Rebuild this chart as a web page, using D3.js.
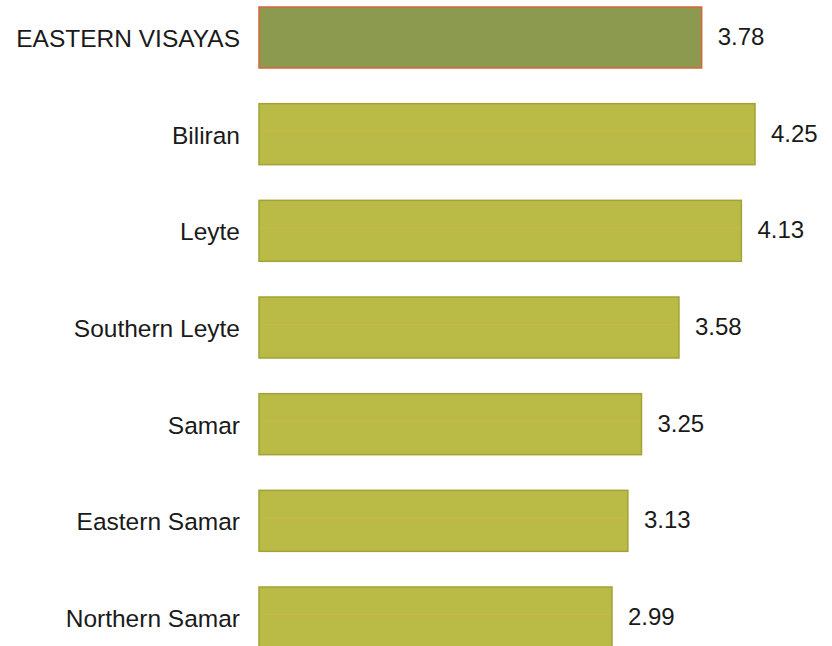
<!DOCTYPE html>
<html>
<head>
<meta charset="utf-8">
<script src="https://cdn.jsdelivr.net/npm/d3@7"></script>
<style>
  body { margin: 0; background: #fff; }
  text { font-family: Arial, "Liberation Sans", sans-serif; fill: #1a1a1a; }
</style>
</head>
<body>
<div id="chart"></div>
<script>
// Data
var provinces = ["EASTERN VISAYAS", "Biliran", "Leyte", "Southern Leyte", "Samar", "Eastern Samar", "Northern Samar"];
var values    = [3.78, 4.25, 4.13, 3.58, 3.25, 3.13, 2.99];
var valueLabels = ["3.78", "4.25", "4.13", "3.58", "3.25", "3.13", "2.99"];

var width  = 832,
    height = 646;

var svg = d3.select("#chart")
    .append("svg")
    .attr("width", width)
    .attr("height", height);

// scales (value axis does not quite start at zero in the original)
var x = d3.scaleLinear()
    .domain([-0.12, 4.25])
    .range([259, 755]);

var y = d3.scaleBand()
    .domain(provinces)
    .range([7, 648])
    .paddingInner(0.369)
    .paddingOuter(0);

var rows = provinces.map(function(p, i) {
    return { name: p, value: values[i], label: valueLabels[i], region: i === 0 };
});

var x0 = x.range()[0];

// bars
svg.selectAll("rect.bar")
    .data(rows)
    .enter()
    .append("rect")
    .attr("class", "bar")
    .attr("x", x0)
    .attr("y", d => y(d.name))
    .attr("width", d => x(d.value) - x0)
    .attr("height", y.bandwidth())
    .attr("fill", d => d.region ? "#8c9a50" : "#b9bb46")
    .attr("stroke", d => d.region ? "#d8643c" : "#a3a236")
    .attr("stroke-width", 1.5);

// faint streak across the yellow bars (print texture)
svg.selectAll("line.streak")
    .data(rows.filter(d => !d.region))
    .enter()
    .append("line")
    .attr("class", "streak")
    .attr("x1", x0 + 2)
    .attr("x2", d => x(d.value) - 2)
    .attr("y1", d => y(d.name) + y.bandwidth() * 0.45)
    .attr("y2", d => y(d.name) + y.bandwidth() * 0.45)
    .attr("stroke", "#d9b840")
    .attr("stroke-width", 1.5)
    .attr("opacity", 0.5);

// category labels
svg.selectAll("text.cat")
    .data(rows)
    .enter()
    .append("text")
    .attr("class", "cat")
    .attr("x", 240)
    .attr("y", d => y(d.name) + y.bandwidth() / 2 + 1)
    .attr("dy", "0.35em")
    .attr("text-anchor", "end")
    .style("font-size", "24.5px")
    .text(d => d.name);

// value labels
svg.selectAll("text.val")
    .data(rows)
    .enter()
    .append("text")
    .attr("class", "val")
    .attr("x", d => x(d.value) + 16)
    .attr("y", d => y(d.name) + y.bandwidth() / 2 - 1)
    .attr("dy", "0.35em")
    .style("font-size", "24px")
    .text(d => d.label);
</script>
</body>
</html>
